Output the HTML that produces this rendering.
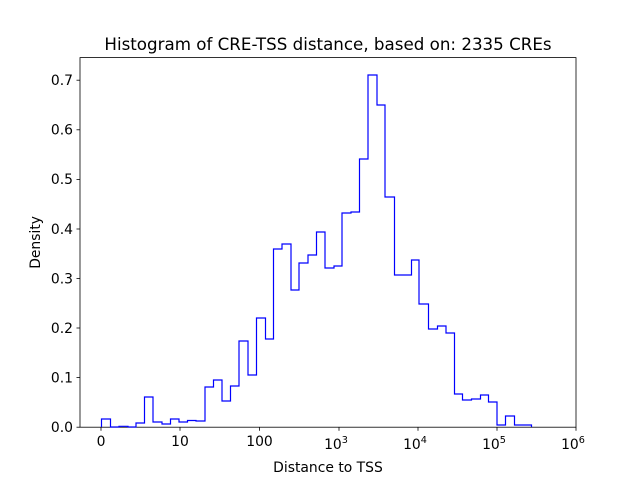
<!DOCTYPE html>
<html><head><meta charset="utf-8"><style>body{margin:0;background:#fff}svg{display:block}text{font-family:"DejaVu Sans","Liberation Sans",sans-serif;fill:#000}</style></head><body>
<svg width="640" height="480" viewBox="0 0 640 480">
<rect x="80" y="57.6" width="496" height="369.6" fill="none" stroke="#000" stroke-width="0.8"/>
<polyline fill="none" stroke="#0000ff" stroke-width="1.2" points="101.5,427 101.5,419 110.5,419 110.5,427 119,427 119,426.3 128,426.3 128,427 136,427 136,423 144.5,423 144.5,397 153,397 153,422 162,422 162,424 170.5,424 170.5,419 179,419 179,422 187.5,422 187.5,420.5 196,420.5 196,421 205,421 205,387 213.5,387 213.5,380 222,380 222,401 230.5,401 230.5,386 239,386 239,341 248,341 248,375 256.5,375 256.5,318 265.5,318 265.5,339 273.5,339 273.5,249 282,249 282,244 291,244 291,290 299,290 299,263 308,263 308,255 316.5,255 316.5,232 325,232 325,268 334,268 334,266 342,266 342,213 351,213 351,212 359.5,212 359.5,159 368,159 368,75 377,75 377,105 385,105 385,197 394.5,197 394.5,275 411.5,275 411.5,260 419,260 419,304 428.5,304 428.5,329 437.5,329 437.5,326 446,326 446,333 454.5,333 454.5,394 462.5,394 462.5,400 471.5,400 471.5,399 480.5,399 480.5,395 488.5,395 488.5,402 497,402 497,425 505.5,425 505.5,416 514.5,416 514.5,425 531.5,425 531.5,427"/>
<g stroke="#000" stroke-width="0.8">
<line x1="101" y1="427.2" x2="101" y2="430.7"/><line x1="180" y1="427.2" x2="180" y2="430.7"/><line x1="259.5" y1="427.2" x2="259.5" y2="430.7"/><line x1="339" y1="427.2" x2="339" y2="430.7"/><line x1="418" y1="427.2" x2="418" y2="430.7"/><line x1="497" y1="427.2" x2="497" y2="430.7"/><line x1="576" y1="427.2" x2="576" y2="430.7"/>
<line x1="76.5" y1="427.2" x2="80" y2="427.2"/><line x1="76.5" y1="377.6" x2="80" y2="377.6"/><line x1="76.5" y1="328" x2="80" y2="328"/><line x1="76.5" y1="278.5" x2="80" y2="278.5"/><line x1="76.5" y1="229" x2="80" y2="229"/><line x1="76.5" y1="179.4" x2="80" y2="179.4"/><line x1="76.5" y1="129.8" x2="80" y2="129.8"/><line x1="76.5" y1="80.2" x2="80" y2="80.2"/>
</g>
<g font-size="13.9" text-anchor="end">
<text x="73" y="432">0.0</text><text x="73" y="382.4">0.1</text><text x="73" y="332.8">0.2</text><text x="73" y="283.3">0.3</text><text x="73" y="233.8">0.4</text><text x="73" y="184.2">0.5</text><text x="73" y="134.6">0.6</text><text x="73" y="85">0.7</text>
</g>
<g font-size="13.9" text-anchor="middle">
<text x="101" y="446">0</text><text x="180" y="446">10</text><text x="259.5" y="446">100</text>
<text x="336" y="449">10<tspan font-size="9.7" dy="-6">3</tspan></text>
<text x="415" y="449">10<tspan font-size="9.7" dy="-6">4</tspan></text>
<text x="494" y="449">10<tspan font-size="9.7" dy="-6">5</tspan></text>
<text x="573" y="449">10<tspan font-size="9.7" dy="-6">6</tspan></text>
<text x="328" y="472">Distance to TSS</text>
<text x="328" y="50" font-size="16.7">Histogram of CRE-TSS distance, based on: 2335 CREs</text>
</g>
<text font-size="13.9" text-anchor="middle" transform="translate(40,242.4) rotate(-90)">Density</text>
</svg>
</body></html>
